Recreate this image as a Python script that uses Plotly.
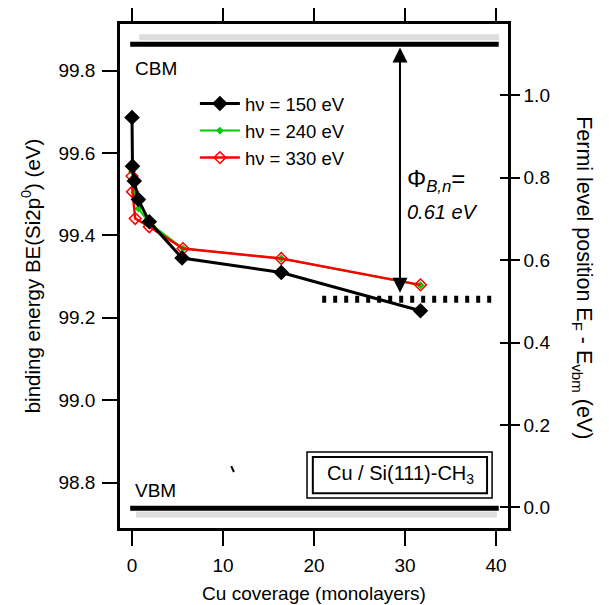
import plotly.graph_objects as go

# ---- data ----
coverage_150 = [0.0, 0.05, 0.25, 0.7, 1.9, 5.5, 16.4, 31.7]
be_150 = [99.686, 99.568, 99.532, 99.487, 99.433, 99.345, 99.310, 99.217]

coverage_240 = [0.0, 0.05, 0.25, 0.7, 1.9, 5.6, 16.4, 31.7]
be_240 = [99.555, 99.530, 99.505, 99.465, 99.430, 99.368, 99.344, 99.279]

coverage_330 = [0.0, 0.05, 0.35, 1.9, 5.6, 16.4, 31.7]
be_330 = [99.544, 99.506, 99.441, 99.421, 99.368, 99.344, 99.280]

series_names = ["hν = 150 eV", "hν = 240 eV", "hν = 330 eV"]

x_ticks = [0, 10, 20, 30, 40]
vbm_ref = 98.74          # BE that corresponds to E_F - E_vbm = 0
cbm_be = 99.864
cbm_shadow_be = 99.881
vbm_be = 98.738
vbm_shadow_be = 98.723
ef_be = 99.245
barrier_label = "0.61 eV"

left_range = [98.69, 99.913]
right_range = [left_range[0] - vbm_ref, left_range[1] - vbm_ref]
x_range = [-1.32, 41.32]

FONT = "Arial, 'Liberation Sans', sans-serif"

fig = go.Figure()

fig.add_trace(go.Scatter(
    x=coverage_240, y=be_240, mode="lines+markers", name=series_names[1],
    line=dict(color="#00cc00", width=2),
    marker=dict(symbol="diamond", size=6, color="#00cc00"),
    legendrank=2))
fig.add_trace(go.Scatter(
    x=coverage_330, y=be_330, mode="lines+markers", name=series_names[2],
    line=dict(color="#ff0000", width=2.5),
    marker=dict(symbol="diamond-open", size=9, color="#ff0000", line=dict(width=1.5)),
    legendrank=3))
fig.add_trace(go.Scatter(
    x=coverage_150, y=be_150, mode="lines+markers", name=series_names[0],
    line=dict(color="black", width=3),
    marker=dict(symbol="diamond", size=12, color="black"),
    legendrank=1))

# invisible traces to activate the right-hand axes
fig.add_trace(go.Scatter(x=[None], y=[None], yaxis="y2", showlegend=False, hoverinfo="skip"))
fig.add_trace(go.Scatter(x=[None], y=[None], yaxis="y3", showlegend=False, hoverinfo="skip"))

shapes = [
    dict(type="line", xref="x", yref="y", x0=0.8, x1=40.35, y0=cbm_shadow_be, y1=cbm_shadow_be,
         line=dict(color="#dddddd", width=6)),
    dict(type="line", xref="x", yref="y", x0=-0.2, x1=40.3, y0=cbm_be, y1=cbm_be,
         line=dict(color="black", width=5)),
    dict(type="line", xref="x", yref="y", x0=0.45, x1=40.1, y0=vbm_shadow_be, y1=vbm_shadow_be,
         line=dict(color="#dddddd", width=6)),
    dict(type="line", xref="x", yref="y", x0=-0.2, x1=40.3, y0=vbm_be, y1=vbm_be,
         line=dict(color="black", width=5)),
    dict(type="line", xref="x", yref="y", x0=20.9, x1=40.2, y0=ef_be, y1=ef_be,
         line=dict(color="black", width=7, dash="4px,7px")),
    dict(type="rect", xref="paper", yref="paper", x0=0.482, x1=0.959, y0=0.0595, y1=0.151,
         line=dict(color="black", width=1.5), fillcolor="white"),
    dict(type="rect", xref="paper", yref="paper", x0=0.497, x1=0.946, y0=0.069, y1=0.141,
         line=dict(color="black", width=2)),
    dict(type="line", xref="x", yref="y", x0=10.9, x1=11.2, y0=98.84, y1=98.826,
         line=dict(color="black", width=2)),
]

annotations = [
    dict(x=29.45, y=cbm_be - 0.008, ax=29.45, ay=ef_be + 0.012, xref="x", yref="y",
         axref="x", ayref="y", text="", showarrow=True, arrowhead=2, arrowside="end+start",
         arrowwidth=2, arrowsize=1.5, arrowcolor="black"),
    dict(x=30.0, y=99.534, xref="x", yref="y", xanchor="left", yanchor="middle",
         text="Φ<sub><i>B,n</i></sub>=", showarrow=False, font=dict(size=24, color="black")),
    dict(x=30.0, y=99.457, xref="x", yref="y", xanchor="left", yanchor="middle",
         text="<i>" + barrier_label + "</i>", showarrow=False, font=dict(size=20, color="black")),
    dict(x=0.1, y=99.806, xref="x", yref="y", xanchor="left", yanchor="middle",
         text="CBM", showarrow=False, font=dict(size=19, color="black")),
    dict(x=0.1, y=98.782, xref="x", yref="y", xanchor="left", yanchor="middle",
         text="VBM", showarrow=False, font=dict(size=19, color="black")),
    dict(x=0.722, y=0.107, xref="paper", yref="paper", xanchor="center", yanchor="middle",
         text="Cu / Si(111)-CH<sub>3</sub>", showarrow=False, font=dict(size=20, color="black")),
    dict(x=1.193, y=0.496, xref="paper", yref="paper", xanchor="center", yanchor="middle",
         text="Fermi level position E<sub>F</sub> - E<sub>vbm</sub> (eV)", textangle=90,
         showarrow=False, font=dict(size=21.5, color="black")),
]

fig.update_layout(
    width=601, height=597,
    margin=dict(l=112, r=101, t=16, b=77, autoexpand=False),
    paper_bgcolor="white", plot_bgcolor="white",
    font=dict(family=FONT, size=18, color="black"),
    showlegend=True,
    legend=dict(x=0.193, y=0.879, xanchor="left", yanchor="top", bgcolor="rgba(0,0,0,0)",
                font=dict(size=18.5), tracegroupgap=0, itemwidth=40),
    xaxis=dict(range=x_range, tickvals=x_ticks, ticks="outside", ticklen=15, tickwidth=2,
               tickcolor="black", showline=True, linewidth=2.5, linecolor="black",
               mirror="ticks", showgrid=False, zeroline=False, ticklabelstandoff=3,
               automargin=False, tickfont=dict(size=19),
               title=dict(text="Cu coverage (monolayers)", font=dict(size=19), standoff=13)),
    yaxis=dict(range=left_range, tick0=98.8, dtick=0.2, tickformat=".1f", ticks="outside",
               ticklen=15, tickwidth=2, tickcolor="black", showline=True, linewidth=2.5,
               linecolor="black", showgrid=False, zeroline=False, automargin=False,
               tickfont=dict(size=19), ticklabelstandoff=3,
               title=dict(text="binding energy BE(Si2p<sup>0</sup>) (eV)", font=dict(size=20.5),
                          standoff=13)),
    yaxis2=dict(range=right_range, tick0=0, dtick=0.2, tickformat=".1f", overlaying="y",
                side="right", anchor="x", ticks="outside", ticklen=9, tickwidth=2,
                tickcolor="black", showline=True, linewidth=2.5, linecolor="black",
                showgrid=False, zeroline=False, automargin=False, tickfont=dict(size=19)),
    yaxis3=dict(range=right_range, tick0=0, dtick=0.2, overlaying="y", side="right",
                anchor="x", ticks="inside", ticklen=8, tickwidth=2, tickcolor="black",
                showticklabels=False, showline=False, showgrid=False, zeroline=False,
                automargin=False),
    shapes=shapes,
    annotations=annotations,
)

fig.write_html("out.html")
